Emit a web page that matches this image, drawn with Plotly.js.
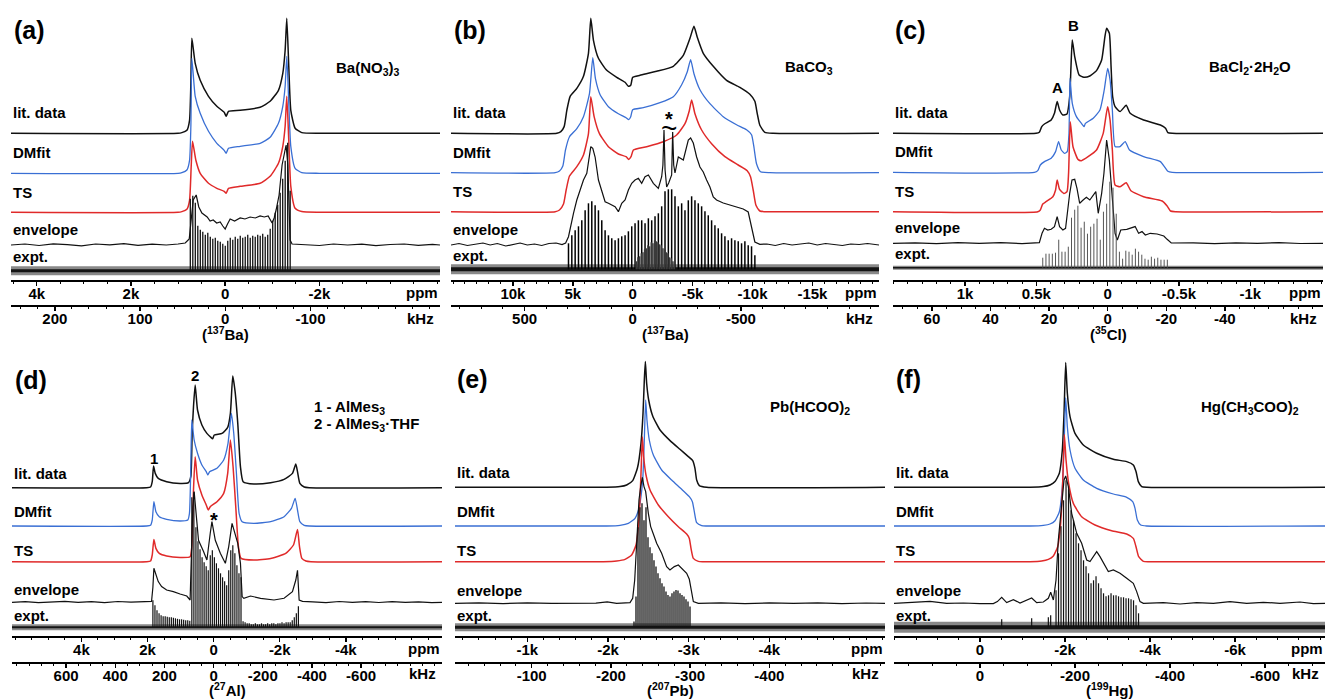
<!DOCTYPE html>
<html><head><meta charset="utf-8">
<script src="https://cdn.plot.ly/plotly-3.0.1.min.js"></script>
<style>html,body{margin:0;padding:0;background:#fff;}#chart{width:1325px;height:700px;}</style>
</head><body><div id="chart"></div>
<script>
// ===== Panel (a) Ba(NO3)3 =====
const litA_ppm = [4546, 1000, 919, 813, 756, 728, 707, 636, 530, 354, 177, 21, -21, -71, -318, -742, -954, -1131, -1223, -1273, -1308, -1350, -1393, -1485, -1626, -2000, -4560];
const litA_int = [0, 0, 0.7, 3, 13, 50, 95, 70, 53, 37, 27, 21, 17, 22, 23, 26, 32, 43, 60, 83, 115, 67, 23, 5, 0.7, 0, 0];
const dmA_int  = [0, 0, 0.7, 3.3, 13, 47, 115, 77, 60, 42, 30, 23, 20, 25, 27, 30, 36, 50, 67, 87, 117, 70, 27, 5, 0.7, 0, 0];
const tsA_ppm  = [4546, 1000, 919, 813, 756, 721, 693, 622, 530, 354, 177, 21, -21, -71, -318, -742, -954, -1131, -1223, -1273, -1308, -1350, -1393, -1485, -1626, -2000, -4560];
const tsA_int  = [0, 0, 0.7, 3, 12, 46, 71, 52, 39, 29, 24, 21, 19, 24, 26, 29, 36, 49, 66, 86, 116, 72, 26, 4, 0.7, 0, 0];
const envA_ppm = [4546, 4250, 3950, 3650, 3350, 3050, 2750, 2450, 2150, 1850, 1550, 1250, 1000, 848, 763, 721, 678, 615, 560, 494, 440, 382, 320, 254, 180, 106, 50, 0, -50, -106, -200, -318, -420, -530, -640, -742, -830, -912, -996, -1040, -1081, -1145, -1208, -1250, -1293, -1330, -1357, -1378, -1420, -1700, -2000, -2300, -2600, -2900, -3200, -3500, -3800, -4100, -4400, -4560];
const envA_int = [0, 1, -0.5, 1.2, 0.3, -0.8, 1, 0.2, 1.3, -0.3, 0.8, 0, 1, 2, 6, 25, 45, 50, 38, 32, 30, 28, 24, 25, 22, 23, 19, 16, 21, 26, 24, 27, 26, 28, 27, 29, 28, 29, 22, 27, 35, 50, 80, 92, 100, 80, 45, 5, 1, 0.5, -0.5, 1, 0, 0.8, -0.6, 0.5, 1, -0.3, 0.7, 0];
const exptA_start = 740, exptA_step = -53;
const exptA_int = [72, 75, 68, 45, 41, 39, 36, 38, 34, 32, 33, 30, 29, 27, 25, 30, 33, 31, 34, 32, 35, 33, 34, 36, 33, 35, 34, 36, 35, 37, 34, 36, 42, 50, 58, 66, 78, 92, 110, 128, 80];
const ppmTicksA = [4000, 2000, 0, -2000], ppmTextA = ['4k', '2k', '0', '-2k'], khzTicksA = [200, 100, 0, -100];

// ===== Panel (b) BaCO3 =====
const litB_ppm = [15168, 6334, 6000, 5723, 5500, 5223, 4667, 4111, 3695, 3500, 3278, 2861, 2167, 1333, 639, 361, 167, 0, -611, -2000, -3389, -4223, -4778, -5111, -5389, -5889, -6723, -7834, -8945, -9778, -10195, -10390, -10612, -11029, -11723, -20557];
const litB_int = [0, 0, 1.7, 6.7, 23, 37, 45, 57, 80, 115, 93, 75, 63, 56, 51, 47, 48, 56, 58, 62, 67, 78, 95, 107, 96, 80, 67, 53, 46, 39, 32, 20, 8, 1, 0, 0];
const dmB_ppm  = [15168, 6473, 6112, 5834, 5612, 5278, 4667, 4111, 3611, 3334, 3111, 2722, 2028, 1195, 556, 333, 167, 0, -889, -2278, -3389, -4084, -4556, -4834, -5111, -5611, -6445, -7556, -8667, -9501, -9918, -10112, -10334, -10667, -11445, -20557];
const dmB_int  = [0, 0, 1.7, 6.7, 22.7, 36, 44, 56, 79, 115, 94, 78, 66, 59, 55, 53, 56, 63, 65, 70, 76, 88, 101, 113, 99, 83, 69, 56, 48, 43, 38, 26, 9, 1, 0, 0];
const tsB_ppm  = [15168, 6473, 6112, 5778, 5556, 5278, 4667, 4111, 3695, 3500, 3222, 2778, 2028, 1195, 556, 333, 139, -56, -1167, -2556, -3667, -4361, -4723, -4917, -5195, -5750, -6584, -7695, -8806, -9556, -9834, -10056, -10279, -10612, -11445, -20557];
const tsB_int  = [0, 0, 1.7, 7.7, 21.7, 35.7, 45, 56.7, 78, 115, 95, 78, 65, 57.7, 55, 52.3, 55, 61.7, 65, 70, 76.7, 88, 101, 111.7, 98, 81.7, 68, 55, 46.7, 41, 35, 21.7, 6.7, 0.7, 0, 0];
const envB_ppm = [15168, 14500, 13800, 13200, 12500, 11900, 11300, 10600, 10000, 9400, 8800, 8200, 7600, 7000, 6400, 5900, 5600, 5361, 4945, 4667, 4389, 4111, 3834, 3650, 3500, 3334, 3139, 2861, 2583, 2306, 2028, 1750, 1472, 1195, 917, 639, 361, 83, -194, -472, -750, -1028, -1306, -1722, -2139, -2417, -2520, -2611, -2700, -2834, -3000, -3250, -3334, -3420, -3528, -3806, -4223, -4639, -4834, -5056, -5334, -5612, -5889, -6167, -6445, -6723, -7000, -7556, -8112, -8667, -9223, -9640, -9918, -10195, -10612, -11200, -11900, -12600, -13300, -14000, -14700, -15400, -16100, -16800, -17500, -18200, -18900, -19600, -20300, -20557];
const envB_int = [0, 1.5, -0.5, 1, 2, 0, 1.5, -1, 0.5, 2, 0, 1, -0.5, 1.5, 2, 0.5, 2, 8.3, 31.7, 45, 55, 65, 71.7, 85, 98.3, 96.7, 88, 65, 55, 43.3, 41.7, 40, 38.3, 33.3, 41.7, 45, 55, 61.7, 65, 66.7, 61.7, 68.3, 70, 61.7, 56.7, 68.3, 80, 115, 75, 58, 62, 70, 113, 80, 72, 88, 85, 105, 107, 102, 88, 78, 73, 65, 58, 48, 45, 42, 40, 38, 36, 33, 18, 3, 0.7, 1, -0.5, 1.5, 0, 1, 2, 0, 1.5, 0.5, -0.5, 1, 0.5, 1.5, 0, 0];
const exptB_start = 5361, exptB_step = -277.8;
const exptB_int = [26, 34, 39, 43, 49, 59, 66, 68, 64, 59, 49, 39, 34, 31, 29, 31, 33, 34, 38, 43, 46, 49, 49, 46, 51, 49, 53, 56, 63, 78, 80, 80, 73, 63, 66, 59, 69, 73, 69, 66, 63, 58, 54, 49, 44, 41, 36, 33, 29, 31, 29, 28, 26, 28, 24, 23, 14];
const exptBmid_start = -300, exptBmid_step = -138.9;
const exptBmid_int = [8, 12, 13, 16, 17, 20, 21, 24, 23, 27, 26, 29, 28, 27, 25, 24, 21, 20, 17, 16, 12, 11, 8, 7];
const ppmTicksB = [10000, 5000, 0, -5000, -10000, -15000], ppmTextB = ['10k', '5k', '0', '-5k', '-10k', '-15k'], khzTicksB = [500, 0, -500];

// ===== Panel (c) BaCl2·2H2O =====
const litC_ppm = [1505, 502, 479, 462, 443, 396, 373, 354, 337, 314, 285, 266, 257, 248, 231, 200, 167, 125, 78, 42, 19, 7, -12, -24, -35, -52, -87, -130, -158, -252, -370, -406, -422, -453, -1510];
const litC_int = [0, 0, 1, 6.7, 9.3, 13.3, 20, 31.7, 23.3, 18.3, 19.3, 36.7, 66.7, 93.3, 76.7, 58.3, 56, 57.3, 62.7, 73.3, 96.7, 105, 100, 66.7, 36.7, 26.7, 21.7, 28, 20, 13.3, 8.3, 5, 0.7, 0, 0];
const dmC_ppm  = [1505, 514, 490, 472, 443, 396, 365, 344, 325, 302, 283, 271, 264, 248, 219, 184, 165, 156, 101, 54, 24, 0, -17, -33, -52, -87, -123, -153, -252, -370, -398, -422, -453, -1510];
const dmC_int  = [0, 0, 1.7, 7.3, 10.7, 14, 20.7, 30.7, 22.3, 19, 20.7, 39, 94, 69, 55.7, 49, 45.7, 49, 54, 62.3, 82.3, 104, 92.3, 62.3, 25.7, 25.7, 30.7, 22.3, 15.7, 10.7, 5.7, 1, 0, 0];
const tsC_ppm  = [1505, 490, 472, 455, 432, 384, 365, 354, 337, 307, 285, 274, 262, 243, 208, 184, 137, 78, 31, 0, -17, -33, -52, -87, -130, -163, -252, -382, -417, -441, -476, -1510];
const tsC_int  = [0, 0, 1.7, 7.7, 10, 15, 21.7, 31.7, 22.3, 18.3, 20, 38.3, 90, 65, 52.3, 51, 55, 61.7, 78.3, 105, 91.7, 61.7, 26.7, 25, 29, 21, 15, 10.7, 5.7, 0.7, 0, 0];
const envC_ppm = [1505, 1350, 1200, 1050, 900, 750, 600, 502, 479, 460, 443, 420, 396, 373, 354, 337, 314, 295, 278, 266, 250, 231, 215, 196, 172, 149, 125, 101, 83, 66, 42, 26, 7, -12, -28, -52, -68, -92, -134, -170, -193, -217, -241, -264, -299, -347, -394, -417, -446, -600, -750, -900, -1050, -1200, -1350, -1510];
const envC_int = [0, 0.5, -0.3, 0.6, 0, 0.7, -0.3, 0, 0.7, 10, 15, 13.3, 14, 16.7, 26.7, 16.7, 13.3, 15, 36.7, 50, 63.3, 64, 55, 40, 43.3, 46, 43.3, 48.3, 51.7, 30, 50, 70, 103.3, 83.3, 50, 10, 3.3, 13.3, 14, 16, 16.7, 10, 11.7, 8.3, 10, 9.3, 7.3, 4, 0.3, 0.5, -0.3, 0.5, 0, 0.6, -0.2, 0];
const exptC_start = 455, exptC_step = -22.4;
const exptC_int = [10, 14, 14, 14, 15, 28, 16, 16, 21, 50, 58, 62, 40, 46, 34, 41, 44, 49, 28, 56, 64, 86, 80, 54, 16, 9, 17, 16, 13, 19, 16, 13, 9, 8, 11, 9, 10, 8, 8, 8];
const ppmTicksC = [1000, 500, 0, -500, -1000], ppmTextC = ['1k', '0.5k', '0', '-0.5k', '-1k'], khzTicksC = [60, 40, 20, 0, -20, -40];

// ===== Panel (d) AlMes3 / AlMes3·THF =====
const litD_ppm = [6100, 2030, 1908, 1857, 1817, 1766, 1675, 1421, 1015, 761, 690, 650, 609, 558, 487, 355, 203, 81, 30, -20, -254, -426, -508, -579, -650, -731, -812, -893, -1218, -1726, -2132, -2385, -2487, -2538, -2609, -2741, -2893, -6910];
const litD_int = [0, 0, 0.7, 6, 21.7, 14.3, 9.3, 6, 4.3, 5, 11, 54.3, 81, 102.7, 77.7, 62.7, 54.3, 50.3, 49, 52.7, 54.3, 60.3, 74.3, 111.7, 96, 64.3, 21, 6, 3.7, 5, 8.3, 14.3, 23.7, 16, 4.3, 0.7, 0, 0];
const dmD_ppm  = [6100, 2030, 1908, 1857, 1807, 1746, 1644, 1421, 1015, 782, 731, 690, 660, 589, 487, 355, 223, 173, 122, -102, -305, -436, -538, -609, -690, -771, -863, -1218, -1726, -2132, -2355, -2467, -2538, -2609, -2741, -2893, -6910];
const dmD_int  = [0, 0, 0.7, 6, 24.3, 14.3, 9.3, 6.7, 5, 6, 12.7, 59.3, 106, 86, 72.7, 61, 54.3, 51, 54.3, 57.7, 66, 82.7, 112.7, 92.7, 52.7, 12.7, 4.3, 2.7, 4.3, 9.3, 17.7, 27.7, 16, 4.3, 0.7, 0, 0];
const tsD_ppm  = [6100, 2030, 1908, 1857, 1807, 1746, 1644, 1421, 1015, 711, 660, 609, 558, 487, 355, 223, 162, 102, -102, -305, -426, -508, -589, -670, -751, -832, -1218, -1726, -2182, -2416, -2538, -2599, -2670, -2792, -2944, -6910];
const tsD_int  = [0, 0, 0.7, 6.7, 22.3, 13.3, 8.3, 5.7, 4.3, 5, 15, 71.7, 105, 81.7, 66.7, 56.7, 51.7, 55, 60, 68.3, 88.3, 121.7, 95, 55, 15, 3.3, 1.7, 3.3, 8.3, 16.7, 32.3, 15, 3.3, 0.7, 0, 0];
const envD_ppm = [6100, 5700, 5300, 4900, 4500, 4100, 3700, 3300, 2900, 2500, 2200, 1979, 1878, 1837, 1807, 1675, 1573, 1421, 1218, 1015, 812, 711, 670, 629, 589, 457, 305, 203, 102, 51, -51, -203, -355, -457, -558, -690, -731, -812, -863, -914, -1117, -1421, -1827, -2132, -2385, -2487, -2538, -2588, -2690, -3000, -3400, -3800, -4200, -4600, -5000, -5400, -5800, -6200, -6600, -6910];
const envD_int = [0, 0.7, -0.3, 0.5, 1, 0, 0.6, -0.4, 0.8, 0.2, 0.7, 0.5, 1, 15, 34, 20.7, 15.7, 12.3, 10.7, 8.3, 6.3, 2.3, 40, 95, 110.7, 62, 50.7, 42.3, 69, 80.7, 62, 49, 39, 55.7, 79, 62, 59, 39, 5.7, 4, 6.3, 4, 2.3, 4, 10.7, 22.3, 32, 2.3, 1, 0.5, -0.3, 0.8, 0, 0.6, -0.2, 0.7, 0, 0.5, -0.3, 0];
const exptD_start = 1837, exptD_step = -62;
const exptD_int = [27, 22, 17, 14, 12, 11, 11, 10.5, 10, 10, 9.5, 9, 8.5, 8, 8, 7.5, 7, 7, 6.5, 130, 135, 100, 86, 78, 70, 65, 61, 57, 72, 77, 70, 64, 59, 54, 50, 46, 42, 57, 77, 82, 74, 62, 54, 50, 6, 5, 4, 4, 3, 3, 4, 3, 3, 4, 3, 3, 4, 3, 4, 4, 3, 4, 4, 5, 4, 5, 5, 5, 7, 10, 14, 21];
const ppmTicksD = [4000, 2000, 0, -2000, -4000], ppmTextD = ['4k', '2k', '0', '-2k', '-4k'], khzTicksD = [600, 400, 200, 0, -200, -400, -600];

// ===== Panel (e) Pb(HCOO)2 =====
const litE_ppm = [-103, -1983, -2149, -2231, -2306, -2364, -2409, -2434, -2450, -2463, -2479, -2504, -2554, -2645, -2769, -2892, -2996, -3050, -3078, -3099, -3132, -3223, -5434];
const litE_int = [0, 0, 0.7, 2.3, 6.7, 19, 44, 74, 107, 125.7, 104, 87.3, 71.3, 57.3, 46.7, 38, 30.7, 26.7, 19, 7.3, 1.7, 0, 0];
const dmE_ppm  = [-103, -1983, -2149, -2252, -2335, -2388, -2430, -2450, -2467, -2483, -2512, -2562, -2665, -2789, -2913, -3008, -3046, -3070, -3099, -3161, -3223, -5434];
const dmE_int  = [0, 0, 0.7, 2.7, 7.7, 19.3, 46, 86, 126, 106, 86, 71, 56, 46, 36.7, 29.3, 24.3, 14.3, 3.3, 0.3, 0, 0];
const tsE_ppm  = [-103, -1942, -2107, -2211, -2293, -2347, -2388, -2409, -2426, -2442, -2471, -2521, -2624, -2748, -2872, -2975, -3008, -3029, -3058, -3120, -3182, -5434];
const tsE_int  = [0, 0, 0.7, 2.3, 6.7, 16.7, 48, 88.3, 125, 105, 86.7, 71.7, 56.7, 45, 35, 27.7, 23.3, 13.3, 3.3, 0.3, 0, 0];
const envE_ppm = [-103, -400, -700, -1000, -1300, -1600, -1850, -1990, -2107, -2273, -2306, -2331, -2355, -2384, -2405, -2426, -2446, -2467, -2500, -2529, -2562, -2603, -2665, -2727, -2768, -2822, -2872, -2913, -2975, -3008, -3037, -3058, -3120, -3400, -3700, -4000, -4300, -4600, -4900, -5200, -5434];
const envE_int = [0, 0.5, -0.3, 0.4, 0, 0.5, 0.2, 1.5, 0, 0.7, 5, 23.3, 66.7, 103.3, 116.7, 126, 116.7, 111.7, 90, 76.7, 69.3, 60, 50, 36.7, 33.3, 36.7, 38.3, 35, 30, 24, 10, 1.7, 0, 0.5, -0.3, 0.4, 0, 0.5, -0.3, 0.3, 0];
const exptE_start = -2322, exptE_step = -24.8;
const exptE_int = [5.7, 30.7, 100, 120, 124, 107, 120, 90, 80, 74, 67, 60.7, 54, 49, 44, 40.7, 35.7, 32.3, 30.7, 34, 35.7, 37.3, 36.7, 34, 32.3, 30.7, 28, 25.7, 20.7];
const ppmTicksE = [-1000, -2000, -3000, -4000], ppmTextE = ['-1k', '-2k', '-3k', '-4k'], khzTicksE = [-100, -200, -300, -400];

// ===== Panel (f) Hg(CH3COO)2 =====
const litF_ppm = [2023, -1176, -1490, -1646, -1764, -1866, -1936, -1976, -2015, -2054, -2117, -2234, -2430, -2744, -3136, -3450, -3606, -3669, -3724, -3802, -3920, -8114];
const litF_int = [0, 0, 0.7, 2.3, 5.7, 14, 37.3, 74, 124.7, 94, 70.7, 54, 42.3, 34, 28, 25.7, 22.3, 15.7, 5.7, 0.7, 0, 0];
const dmF_ppm  = [2023, -1176, -1490, -1646, -1764, -1866, -1936, -1976, -2015, -2054, -2117, -2234, -2430, -2744, -3136, -3450, -3591, -3646, -3700, -3779, -3920, -8114];
const dmF_int  = [0, 0, 0.7, 2, 5.3, 14.3, 39.3, 79.3, 128.3, 99.3, 76, 57.7, 46, 37.7, 32, 28.7, 24.3, 17.7, 6, 1, 0, 0];
const tsF_ppm  = [2023, -1176, -1450, -1607, -1725, -1827, -1897, -1944, -1984, -2023, -2085, -2195, -2391, -2705, -3097, -3450, -3606, -3669, -3732, -3842, -3998, -8114];
const tsF_int  = [0, 0, 0.7, 2.3, 5.7, 15, 38.3, 78.3, 127.3, 101.7, 78.3, 58.3, 45, 36.7, 31, 27.7, 23.3, 15, 5, 0.3, 0, 0];
const envF_ppm = [2023, 1568, 1176, 784, 392, 0, -314, -408, -510, -627, -784, -941, -1215, -1333, -1490, -1607, -1662, -1725, -1788, -1842, -1921, -1976, -2015, -2078, -2156, -2274, -2391, -2509, -2587, -2666, -2744, -2822, -2940, -3018, -3136, -3293, -3450, -3606, -3685, -3763, -3842, -4312, -4704, -5096, -5488, -5880, -6272, -6664, -7056, -7526, -7840, -8114];
const envF_int = [0, 1.3, 2, 0, 0.3, -0.3, -0.3, 1.7, 6, 0.7, 3.7, 0.3, 5.3, 0.7, 1.3, 5, 11, 3.3, 23.3, 63.3, 103.3, 123.3, 127.3, 116.7, 90, 70, 60, 43.3, 41.7, 46.7, 51.7, 46.7, 36.7, 31.7, 33.3, 30, 25, 20, 11.7, 1.7, 0, 0.7, -0.7, 0.7, 0, 1.7, 0, 1, 0, 1.3, -0.3, 0];
const exptF_start = -1788, exptF_step = -58.8;
const exptF_int = [37, 74, 101, 127, 147, 138, 117, 107, 94, 84, 77, 67, 61, 54, 44, 47, 51, 44, 39, 34, 31, 32, 34, 32, 32, 31, 30, 30, 29, 29, 28, 27, 22, 14];
const exptFextra_ppm = [-510, -1215, -1607, -1662];
const exptFextra_int = [8, 9, 10, 12];
const ppmTicksF = [0, -2000, -4000, -6000], ppmTextF = ['0', '-2k', '-4k', '-6k'], khzTicksF = [0, -200, -400, -600];

const traceNames = ['lit. data', 'DMfit', 'TS', 'envelope', 'expt.'];

// ===== layout configuration =====
const W = 1325, H = 700;
const FONT = '"Liberation Sans", Arial, Helvetica, sans-serif';
const BLACK = '#111', BLUE = '#3a6fd4', RED = '#e02a2a';
const px2x = px => px / W, py2y = py => 1 - py / H;

const rows = [
  {yaxis: 'y', domainPx: [280, 0], khzPy: 305, ppmUnitPy: 292, khzUnitPy: 318, nucPy: 333, nucAnchor: 'middle', labelDy: [20.5, 20.5, 20, 15.5, 14]},
  {yaxis: 'y2', domainPx: [636, 356], khzPy: 662, ppmUnitPy: 648, khzUnitPy: 673, nucPy: 700, nucAnchor: 'bottom', labelDy: [14.4, 14.3, 11.7, 13.3, 12.3]}
];

const panels = [
  {row: 0, xpx: [11, 440], ppmRange: [4546, -4560], khzRange: [251.5, -252], ppmTicks: ppmTicksA, ppmText: ppmTextA, khzTicks: khzTicksA, ppmMinor: 500, khzMinor: 20,
   curves: [[litA_ppm, litA_int], [litA_ppm, dmA_int], [tsA_ppm, tsA_int], [envA_ppm, envA_int]],
   combs: [[exptA_start, exptA_step, exptA_int, '#111']], offsets: [146.7, 106.7, 67.7, 35, 9.3], noise: [9, 3], spikeW: 1.3,
   letter: '(a)', letterPx: [12, 30], texts: [['Ba(NO<sub>3</sub>)<sub>3</sub>', 334, 68]], nuc: '(<sup>137</sup>Ba)'},
  {row: 0, xpx: [451, 879], ppmRange: [15168, -20557], khzRange: [840, -1138], ppmTicks: ppmTicksB, ppmText: ppmTextB, khzTicks: khzTicksB, ppmMinor: 1000, khzMinor: 100,
   curves: [[litB_ppm, litB_int], [dmB_ppm, dmB_int], [tsB_ppm, tsB_int], [envB_ppm, envB_int]],
   combs: [[exptB_start, exptB_step, exptB_int, '#000'], [exptBmid_start, exptBmid_step, exptBmid_int, '#3a3a3a']], offsets: [146.7, 107.3, 68.3, 35, 10.7], noise: [10, 4], spikeW: 1.5,
   letter: '(b)', letterPx: [452, 30], texts: [['BaCO<sub>3</sub>', 783, 67]], nuc: '(<sup>137</sup>Ba)'},
  {row: 0, xpx: [893, 1323], ppmRange: [1505, -1510], khzRange: [73.3, -73.5], ppmTicks: ppmTicksC, ppmText: ppmTextC, khzTicks: khzTicksC, ppmMinor: 100, khzMinor: 5,
   curves: [[litC_ppm, litC_int], [dmC_ppm, dmC_int], [tsC_ppm, tsC_int], [envC_ppm, envC_int]],
   combs: [[exptC_start, exptC_step, exptC_int, '#555']], offsets: [146.7, 107.7, 68.3, 36.7, 12.3], noise: [4, 1.5], spikeW: 1,
   letter: '(c)', letterPx: [893, 30], texts: [['BaCl<sub>2</sub>·2H<sub>2</sub>O', 1207, 67]], nuc: '(<sup>35</sup>Cl)'},
  {row: 1, xpx: [12, 442], ppmRange: [6100, -6910], khzRange: [820, -929], ppmTicks: ppmTicksD, ppmText: ppmTextD, khzTicks: khzTicksD, ppmMinor: 500, khzMinor: 50,
   curves: [[litD_ppm, litD_int], [dmD_ppm, dmD_int], [tsD_ppm, tsD_int], [envD_ppm, envD_int]],
   combs: [[exptD_start, exptD_step, exptD_int, '#111']], offsets: [148.3, 110, 74.3, 33.7, 8.7], noise: [6, 2], spikeW: 1.2,
   letter: '(d)', letterPx: [13, 380], texts: [['1 - AlMes<sub>3</sub>', 312, 407], ['2 - AlMes<sub>3</sub>·THF', 312, 425]], nuc: '(<sup>27</sup>Al)'},
  {row: 1, xpx: [455, 885], ppmRange: [-103, -5434], khzRange: [-3.2, -546], ppmTicks: ppmTicksE, ppmText: ppmTextE, khzTicks: khzTicksE, ppmMinor: 200, khzMinor: 20,
   curves: [[litE_ppm, litE_int], [dmE_ppm, dmE_int], [tsE_ppm, tsE_int], [envE_ppm, envE_int]],
   combs: [[exptE_start, exptE_step, exptE_int, '#111']], offsets: [148.7, 110, 74.3, 32.7, 8.7], noise: [8, 3], spikeW: 1.3,
   letter: '(e)', letterPx: [455, 379], texts: [['Pb(HCOO)<sub>2</sub>', 768, 407]], nuc: '(<sup>207</sup>Pb)'},
  {row: 1, xpx: [894, 1325], ppmRange: [2023, -8114], khzRange: [181, -726], ppmTicks: ppmTicksF, ppmText: ppmTextF, khzTicks: khzTicksF, ppmMinor: 500, khzMinor: 50,
   curves: [[litF_ppm, litF_int], [dmF_ppm, dmF_int], [tsF_ppm, tsF_int], [envF_ppm, envF_int]],
   combs: [[exptF_start, exptF_step, exptF_int, '#111']], extra: [exptFextra_ppm, exptFextra_int], offsets: [148.7, 110, 74.3, 32.7, 8.7], noise: [11, 4], spikeW: 1.2,
   letter: '(f)', letterPx: [894, 379], texts: [['Hg(CH<sub>3</sub>COO)<sub>2</sub>', 1199, 407]], nuc: '(<sup>199</sup>Hg)'}
];

// special peak labels (ppm, height above axis)
const peakLabels = [
  {panel: 2, text: 'A', ppm: 351, y: 193, size: 15},
  {panel: 2, text: 'B', ppm: 238, y: 255, size: 15},
  {panel: 3, text: '1', ppm: 1807, y: 178, size: 15},
  {panel: 3, text: '2', ppm: 558, y: 261, size: 15},
  {panel: 3, text: '*', ppm: 0, y: 116, size: 20},
  {panel: 1, text: '*', ppm: -3028, y: 161, size: 20},
  {panel: 1, text: '~', ppm: -3028, y: 152, size: 28, bold: false}
];

const curveStyle = [
  {color: BLACK, width: 1.5, shape: 'spline'},
  {color: BLUE, width: 1.3, shape: 'spline'},
  {color: RED, width: 1.5, shape: 'spline'},
  {color: BLACK, width: 1.2, shape: 'linear'}
];

const data = [];
const layout = {
  width: W, height: H, margin: {l: 0, r: 0, t: 0, b: 0}, paper_bgcolor: '#fff', plot_bgcolor: 'rgba(0,0,0,0)',
  showlegend: false, annotations: [], font: {family: FONT, color: '#000'}
};
rows.forEach((r, i) => {
  layout[i === 0 ? 'yaxis' : 'yaxis2'] = {domain: [py2y(r.domainPx[0]), py2y(r.domainPx[1])], range: [0, 280], visible: false, fixedrange: true};
});

const tickFont = {family: FONT, size: 15, color: '#000', weight: 'bold'};
function axisStyle(extra) {
  return Object.assign({showline: true, linecolor: '#000', linewidth: 1.5, ticks: 'outside', ticklen: 4, tickwidth: 1.4, tickcolor: '#000',
    tickmode: 'array', tickfont: tickFont, ticklabelstandoff: -5, showgrid: false, zeroline: false, fixedrange: true}, extra);
}
function ann(o) {
  return Object.assign({showarrow: false, font: {family: FONT, size: 15, color: '#000', weight: 'bold'}}, o);
}

panels.forEach((p, i) => {
  const n = i + 1, r = rows[p.row];
  const xa = n === 1 ? 'x' : 'x' + n, xk = 'x' + (n + 6);
  const ya = r.yaxis;
  layout['xaxis' + (n === 1 ? '' : n)] = axisStyle({
    domain: [px2x(p.xpx[0]), px2x(p.xpx[1])], range: p.ppmRange, anchor: ya,
    tickvals: p.ppmTicks, ticktext: p.ppmText,
    minor: {ticks: 'outside', ticklen: 2.5, tickwidth: 1, tickcolor: '#000', tickmode: 'linear', tick0: 0, dtick: p.ppmMinor}
  });
  layout['xaxis' + (n + 6)] = axisStyle({
    overlaying: xa, anchor: 'free', position: py2y(r.khzPy), side: 'bottom', range: p.khzRange,
    tickvals: p.khzTicks, ticktext: p.khzTicks.map(String),
    minor: {ticks: 'outside', ticklen: 2.5, tickwidth: 1, tickcolor: '#000', tickmode: 'linear', tick0: 0, dtick: p.khzMinor}
  });
  data.push({x: [p.khzRange[0]], y: [-50], xaxis: xk, yaxis: ya, mode: 'markers', marker: {opacity: 0}, hoverinfo: 'skip'});

  p.curves.forEach((c, k) => {
    const s = curveStyle[k];
    data.push({x: c[0], y: c[1].map(v => v + p.offsets[k]), xaxis: xa, yaxis: ya, mode: 'lines',
      line: {color: s.color, width: s.width, shape: s.shape, smoothing: 0.5}, hoverinfo: 'skip'});
  });
  const base = p.offsets[4];
  data.push({x: p.ppmRange, y: [base, base], xaxis: xa, yaxis: ya, mode: 'lines', line: {color: 'rgba(40,40,40,0.55)', width: p.noise[0]}, hoverinfo: 'skip'});
  data.push({x: p.ppmRange, y: [base, base], xaxis: xa, yaxis: ya, mode: 'lines', line: {color: '#151515', width: p.noise[1]}, hoverinfo: 'skip'});
  p.combs.forEach(([start, step, hs, col]) => {
    const sx = [], sy = [];
    hs.forEach((h, k) => { const q = start + k * step; sx.push(q, q, null); sy.push(base, base + h, null); });
    data.push({x: sx, y: sy, xaxis: xa, yaxis: ya, mode: 'lines', line: {color: col, width: p.spikeW}, hoverinfo: 'skip', connectgaps: false});
  });
  if (p.extra) {
    const ex = [], ey = [];
    p.extra[0].forEach((q, k) => { ex.push(q, q, null); ey.push(base, base + p.extra[1][k], null); });
    data.push({x: ex, y: ey, xaxis: xa, yaxis: ya, mode: 'lines', line: {color: '#111', width: p.spikeW}, hoverinfo: 'skip', connectgaps: false});
  }

  const A = layout.annotations;
  A.push(ann({text: p.letter, xref: 'paper', yref: 'paper', x: px2x(p.letterPx[0]), y: py2y(p.letterPx[1]), xanchor: 'left', yanchor: 'middle',
    font: {family: FONT, size: 25, color: '#000', weight: 'bold'}}));
  p.texts.forEach(t => A.push(ann({text: t[0], xref: 'paper', yref: 'paper', x: px2x(t[1]), y: py2y(t[2]), xanchor: 'left', yanchor: 'middle'})));
  A.push(ann({text: p.nuc, xref: xa + ' domain', yref: 'paper', x: 0.5, y: py2y(r.nucPy), xanchor: 'center', yanchor: r.nucAnchor, borderpad: 0}));
  A.push(ann({text: 'ppm', xref: xa + ' domain', yref: 'paper', x: 1, y: py2y(r.ppmUnitPy), xanchor: 'right', yanchor: 'middle'}));
  A.push(ann({text: 'kHz', xref: xa + ' domain', yref: 'paper', x: 0.99, y: py2y(r.khzUnitPy), xanchor: 'right', yanchor: 'middle'}));
  traceNames.forEach((nm, k) => {
    A.push(ann({text: nm, xref: xa + ' domain', yref: ya, x: 0, y: p.offsets[k] + r.labelDy[k], xanchor: 'left', yanchor: 'middle'}));
  });
});

peakLabels.forEach(l => {
  const n = l.panel + 1, xa = n === 1 ? 'x' : 'x' + n, ya = rows[panels[l.panel].row].yaxis;
  layout.annotations.push(ann({text: l.text, xref: xa, yref: ya, x: l.ppm, y: l.y, xanchor: 'center', yanchor: 'middle',
    font: {family: FONT, size: l.size, color: '#000', weight: l.bold === false ? 'normal' : 'bold'}}));
});

Plotly.newPlot('chart', data, layout, {displayModeBar: false, staticPlot: true});
</script>
</body></html>
